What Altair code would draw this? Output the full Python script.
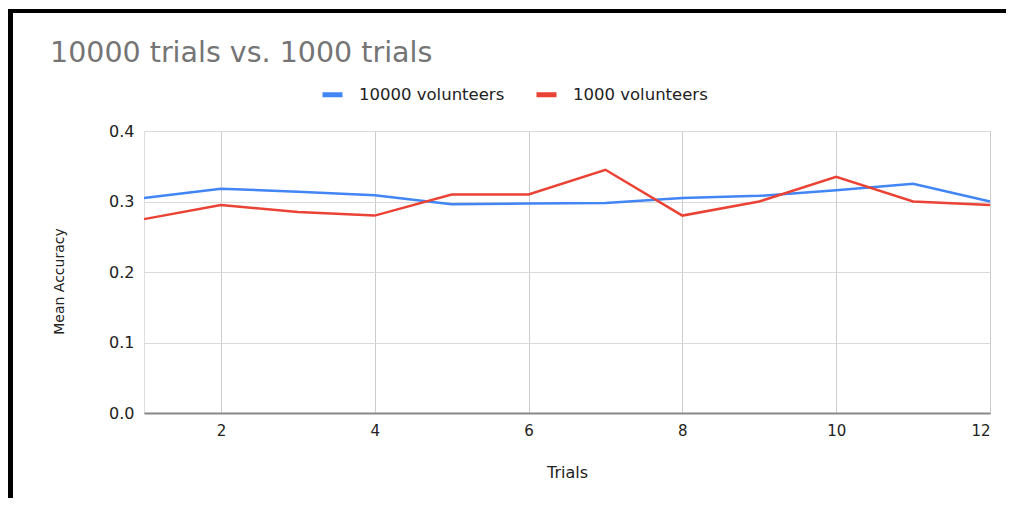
import altair as alt
import pandas as pd

trials = [1, 2, 3, 4, 5, 6, 7, 8, 9, 10, 11, 12]
vol_10000 = [0.305, 0.318, 0.314, 0.309, 0.296, 0.297, 0.298, 0.305, 0.308, 0.316, 0.325, 0.300]
vol_1000 = [0.275, 0.295, 0.285, 0.280, 0.310, 0.310, 0.345, 0.280, 0.300, 0.335, 0.300, 0.295]
series_names = ["10000 volunteers", "1000 volunteers"]
series_colors = ["#4285F4", "#EA4335"]
x_ticks = [2, 4, 6, 8, 10, 12]
y_ticks = [0.0, 0.1, 0.2, 0.3, 0.4]

rows = []
for t, a, b in zip(trials, vol_10000, vol_1000):
    rows.append({"Trials": t, "Mean Accuracy": a, "series": series_names[0]})
    rows.append({"Trials": t, "Mean Accuracy": b, "series": series_names[1]})
df = pd.DataFrame(rows)

FONT = "DejaVu Sans"

lines = alt.Chart(df).mark_line(strokeWidth=2.5).encode(
    x=alt.X(
        "Trials:Q",
        scale=alt.Scale(domain=[1, 12], nice=False, zero=False),
        axis=alt.Axis(
            values=x_ticks,
            title="Trials",
            titleFont=FONT,
            titleFontSize=16,
            titleFontWeight="normal",
            titleColor="#222222",
            titlePadding=26,
            labelFont=FONT,
            labelFontSize=15,
            labelColor="#222222",
            labelPadding=10,
            ticks=False,
            domainColor="#888888",
            domainWidth=2,
            gridColor="#cccccc",
            gridWidth=1,
        ),
    ),
    y=alt.Y(
        "Mean Accuracy:Q",
        scale=alt.Scale(domain=[0, 0.4], nice=False),
        axis=alt.Axis(
            values=y_ticks,
            format=".1f",
            title="Mean Accuracy",
            titleFont=FONT,
            titleFontSize=14,
            titleFontWeight="normal",
            titleColor="#222222",
            titlePadding=42,
            titleY=150,
            labelFont=FONT,
            labelFontSize=16,
            labelColor="#222222",
            labelPadding=10,
            ticks=False,
            domain=False,
            gridColor="#d9d9d9",
            gridWidth=1,
        ),
    ),
    color=alt.Color(
        "series:N",
        scale=alt.Scale(domain=series_names, range=series_colors),
        sort=series_names,
        legend=alt.Legend(
            title=None,
            orient="none",
            legendX=176,
            legendY=-49,
            direction="horizontal",
            symbolType="stroke",
            symbolStrokeWidth=5,
            symbolSize=400,
            labelFont=FONT,
            labelFontSize=16.5,
            labelColor="#222222",
            columnPadding=21,
            labelOffset=14,
        ),
    ),
)

border_top = alt.Chart(pd.DataFrame({"k": [0]})).mark_rule(
    color="black", strokeWidth=4
).encode(x=alt.value(-140), x2=alt.value(880), y=alt.value(-120))

border_left = alt.Chart(pd.DataFrame({"k": [0]})).mark_rule(
    color="black", strokeWidth=6
).encode(x=alt.value(-134), y=alt.value(-122), y2=alt.value(380))

chart = alt.layer(lines, border_top, border_left).properties(
    width=846,
    height=282,
    padding={"left": 136, "top": 123, "right": 16, "bottom": 85},
    autosize=alt.AutoSizeParams(type="none"),
    title=alt.TitleParams(
        "10000 trials vs. 1000 trials",
        anchor="start",
        font=FONT,
        fontSize=28.5,
        fontWeight="normal",
        color="#757575",
        baseline="alphabetic",
        dx=48,
        offset=-84,
    ),
).configure_view(stroke=None).configure(background="white")

chart.save("out.html", embed_options={"renderer": "svg", "actions": False})
